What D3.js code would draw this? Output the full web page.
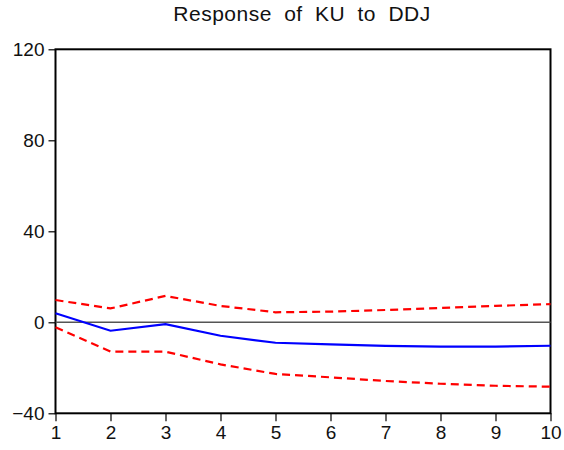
<!DOCTYPE html>
<html><head><meta charset="utf-8">
<script src="https://cdn.jsdelivr.net/npm/d3@7"></script>
<style>body{margin:0;background:#fff;} svg{display:block;}</style>
</head><body>
<script>
const periods = [1,2,3,4,5,6,7,8,9,10];
const response = [4.0,-3.7,-0.8,-5.9,-9.0,-9.7,-10.4,-10.7,-10.7,-10.3];
const upperBand = [9.8,6.1,11.6,7.2,4.4,4.7,5.4,6.3,7.2,8.0];
const lowerBand = [-2.2,-12.9,-12.9,-18.5,-22.7,-24.2,-25.8,-27.0,-27.9,-28.3];
const yTicks = [-40,0,40,80,120];
const title = "Response of KU to DDJ";

const W=564,H=450;
const svg=d3.select("body").append("svg").attr("width",W).attr("height",H);
const x=d3.scaleLinear().domain([1,10]).range([55.5,550.5]);
const y=d3.scaleLinear().domain([-40,120]).range([413.3,49.3]);
const font="Arial, 'Liberation Sans', sans-serif";

// frame
svg.append("rect").attr("x",x(1)).attr("y",y(120)).attr("width",x(10)-x(1)).attr("height",y(-40)-y(120))
  .attr("fill","none").attr("stroke","#000").attr("stroke-width",2);

// zero line
svg.append("line").attr("x1",x(1)).attr("x2",x(10)).attr("y1",y(0)).attr("y2",y(0))
  .attr("stroke","#555").attr("stroke-width",1.4);

const yAxis=d3.axisLeft(y).tickValues(yTicks).tickSize(7).tickPadding(4).tickFormat(d3.format("d"));
const gy=svg.append("g").attr("transform",`translate(${x(1)},0)`).call(yAxis);
gy.select(".domain").remove();
gy.selectAll("line").attr("stroke","#000").attr("stroke-width",1.2);
gy.selectAll("text").attr("font-family",font).attr("font-size",19).attr("fill","#111");

const xAxis=d3.axisBottom(x).tickValues(periods).tickSize(8).tickPadding(4).tickFormat(d3.format("d"));
const gx=svg.append("g").attr("transform",`translate(0,${y(-40)})`).call(xAxis);
gx.select(".domain").remove();
gx.selectAll("line").attr("stroke","#000").attr("stroke-width",1.2);
gx.selectAll("text").attr("font-family",font).attr("font-size",19).attr("fill","#111");

const line=d3.line().x((d,i)=>x(periods[i])).y(d=>y(d));
svg.append("path").attr("d",line(upperBand)).attr("fill","none").attr("stroke","#ff0000").attr("stroke-width",2.2).attr("stroke-dasharray","8,5");
svg.append("path").attr("d",line(lowerBand)).attr("fill","none").attr("stroke","#ff0000").attr("stroke-width",2.2).attr("stroke-dasharray","8,5");
svg.append("path").attr("d",line(response)).attr("fill","none").attr("stroke","#0000ff").attr("stroke-width",2.2);

svg.append("text").attr("x",302).attr("y",21).attr("text-anchor","middle")
  .attr("font-family",font).attr("font-size",21).attr("word-spacing",6).attr("letter-spacing",0.5).attr("fill","#111").text(title);
</script>
</body></html>
